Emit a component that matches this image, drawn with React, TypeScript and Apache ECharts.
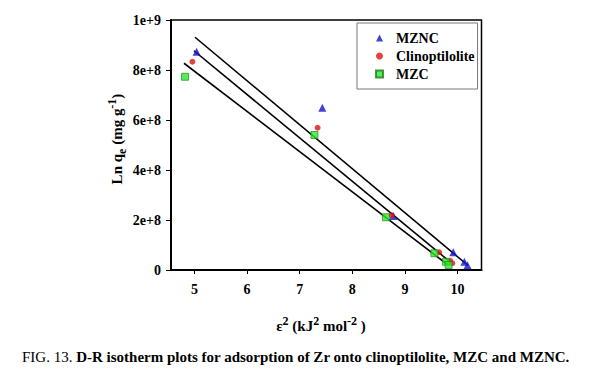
import React, { useEffect, useRef } from "react";
import * as echarts from "echarts";

// ---- data ----
const xTicks = [5, 6, 7, 8, 9, 10];

const mzncX = [5.04, 7.43, 8.78, 9.92, 10.13, 10.19];
const mzncY = [8.73e8, 6.49e8, 2.16e8, 7.1e7, 3.3e7, 1.9e7];
const clinoX = [4.96, 7.34, 8.75, 9.65, 9.86, 9.9];
const clinoY = [8.33e8, 5.69e8, 2.19e8, 7.1e7, 3.7e7, 2.7e7];
const mzcX = [4.82, 7.28, 8.64, 9.56, 9.78, 9.83];
const mzcY = [7.73e8, 5.4e8, 2.11e8, 6.7e7, 3.3e7, 2.0e7];

// fitted D-R lines (start / end points)
const fitMzncX = [5.01, 10.2];
const fitMzncY = [9.31e8, 1.8e7];
const fitClinoX = [4.99, 9.89];
const fitClinoY = [8.77e8, 2.7e7];
const fitMzcX = [4.8, 9.82];
const fitMzcY = [8.27e8, 2.0e7];

const seriesNames = ["MZNC", "Clinoptilolite", "MZC"];

const zip = (xs: number[], ys: number[]) => xs.map((x, i) => [x, ys[i]]);

const SERIF = "'Liberation Serif', 'Times New Roman', serif";

export default function App() {
  const ref = useRef<HTMLDivElement>(null);

  useEffect(() => {
    if (!ref.current) return;
    const chart = echarts.init(ref.current, null, { renderer: "svg" });
    const fitLine = (name: string, xs: number[], ys: number[]) => ({
      name,
      type: "line",
      data: zip(xs, ys),
      symbol: "none",
      silent: true,
      lineStyle: { color: "#000", width: 1.6 },
      z: 3,
    });
    chart.setOption({
      animation: false,
      backgroundColor: "#fff",
      grid: {
        left: 171,
        top: 20,
        width: 310.5,
        height: 250,
        show: true,
        borderColor: "#000",
        borderWidth: 1.5,
        backgroundColor: "transparent",
      },
      xAxis: {
        type: "value",
        min: 4.553,
        max: 4.553 + 310.5 / 52.6,
        axisLine: { show: true, lineStyle: { color: "#000", width: 2 } },
        axisTick: {
          show: true,
          inside: false,
          length: 4,
          customValues: xTicks,
          lineStyle: { color: "#000", width: 1 },
        },
        axisLabel: {
          customValues: xTicks,
          margin: 12,
          color: "#000",
          fontFamily: SERIF,
          fontWeight: "bold",
          fontSize: 14,
        },
        splitLine: { show: false },
      },
      yAxis: {
        type: "value",
        min: 0,
        max: 1e9,
        interval: 2e8,
        axisLine: { show: true, lineStyle: { color: "#000", width: 2 } },
        axisTick: {
          show: true,
          inside: false,
          length: 5,
          lineStyle: { color: "#000", width: 1 },
        },
        axisLabel: {
          margin: 10,
          color: "#000",
          fontFamily: SERIF,
          fontWeight: "bold",
          fontSize: 14,
          formatter: (v: number) => {
            if (v === 0) return "0";
            const e = Math.floor(Math.log10(v) + 1e-9);
            const m = Math.round(v / Math.pow(10, e));
            return `${m}e+${e}`;
          },
        },
        splitLine: { show: false },
      },
      legend: {
        data: seriesNames,
        orient: "vertical",
        left: 357,
        top: 23,
        width: 115,
        backgroundColor: "#fff",
        borderColor: "#777",
        borderWidth: 1,
        padding: [8, 3, 8, 18],
        itemWidth: 7,
        itemHeight: 7,
        itemGap: 4,
        textStyle: {
          fontFamily: SERIF,
          fontWeight: "bold",
          fontSize: 14,
          color: "#000",
          padding: [0, 0, 0, 8],
        },
      },
      series: [
        fitLine("fitMZNC", fitMzncX, fitMzncY),
        fitLine("fitClino", fitClinoX, fitClinoY),
        fitLine("fitMZC", fitMzcX, fitMzcY),
        {
          name: "MZNC",
          type: "scatter",
          data: zip(mzncX, mzncY),
          symbol: "triangle",
          symbolSize: 8,
          itemStyle: { color: "#1414c8" },
          z: 4,
        },
        {
          name: "Clinoptilolite",
          type: "scatter",
          data: zip(clinoX, clinoY),
          symbol: "circle",
          symbolSize: 6,
          itemStyle: { color: "#e01010" },
          z: 4,
        },
        {
          name: "MZC",
          type: "scatter",
          data: zip(mzcX, mzcY),
          symbol: "rect",
          symbolSize: 7,
          itemStyle: { color: "#2ee82e", borderColor: "#1a7a1a", borderWidth: 0.8 },
          z: 4,
        },
      ],
      graphic: [
        {
          type: "text",
          x: 117,
          y: 139,
          rotation: Math.PI / 2,
          style: {
            text: "{b|Ln q}{sub|e}{b| (mg g}{sup|-1}{b|)}",
            align: "center",
            verticalAlign: "middle",
            fill: "#000",
            rich: {
              b: { fontFamily: SERIF, fontWeight: "bold", fontSize: 15, lineHeight: 22, verticalAlign: "middle", fill: "#000" },
              sub: { fontFamily: SERIF, fontWeight: "bold", fontSize: 12, lineHeight: 22, verticalAlign: "bottom", fill: "#000" },
              sup: { fontFamily: SERIF, fontWeight: "bold", fontSize: 12, lineHeight: 22, verticalAlign: "top", fill: "#000" },
            },
          },
        },
        {
          type: "text",
          x: 321,
          y: 326,
          style: {
            text: "{b|ε}{sup|2}{b| (kJ}{sup|2}{b| mol}{sup|-2}{b| )}",
            align: "center",
            verticalAlign: "middle",
            fill: "#000",
            rich: {
              b: { fontFamily: SERIF, fontWeight: "bold", fontSize: 15, lineHeight: 22, verticalAlign: "middle", fill: "#000" },
              sup: { fontFamily: SERIF, fontWeight: "bold", fontSize: 12, lineHeight: 22, verticalAlign: "top", fill: "#000" },
            },
          },
        },
        {
          type: "text",
          x: 22,
          y: 357,
          style: {
            text: "{n|FIG. 13. }{b|D-R isotherm plots for adsorption of Zr onto clinoptilolite, MZC and MZNC.}",
            align: "left",
            verticalAlign: "middle",
            fill: "#000",
            rich: {
              n: { fontFamily: SERIF, fontSize: 15, fill: "#000" },
              b: { fontFamily: SERIF, fontWeight: "bold", fontSize: 15, fill: "#000" },
            },
          },
        },
      ],
    });
    return () => chart.dispose();
  }, []);

  return (
    <div
      ref={ref}
      style={{ position: "fixed", left: 0, top: 0, width: 591, height: 376, background: "#fff" }}
    />
  );
}
